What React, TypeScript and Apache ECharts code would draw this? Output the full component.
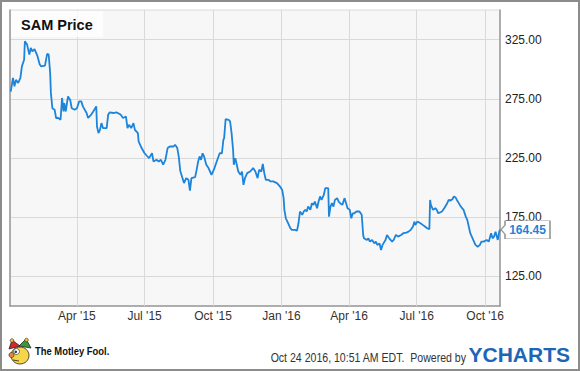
import React, { useEffect, useRef } from 'react';
import * as echarts from 'echarts';

const dates2015 = [
  '2015-01-02','2015-01-05','2015-01-07','2015-01-09','2015-01-12','2015-01-15','2015-01-17','2015-01-20','2015-01-21','2015-01-24','2015-01-27','2015-01-29','2015-01-31',
  '2015-02-03','2015-02-07','2015-02-10','2015-02-12','2015-02-17','2015-02-20','2015-02-22','2015-02-24','2015-02-25','2015-02-27',
  '2015-03-02','2015-03-04','2015-03-07','2015-03-10','2015-03-12','2015-03-14','2015-03-15','2015-03-17','2015-03-20','2015-03-23','2015-03-25','2015-03-29',
  '2015-04-01','2015-04-04','2015-04-07','2015-04-09','2015-04-14','2015-04-16','2015-04-20','2015-04-23','2015-04-27','2015-04-28','2015-04-30',
  '2015-05-02','2015-05-04','2015-05-06','2015-05-11','2015-05-13','2015-05-15','2015-05-20','2015-05-24','2015-05-28','2015-05-30',
  '2015-06-02','2015-06-06','2015-06-08','2015-06-10','2015-06-13','2015-06-16','2015-06-18','2015-06-22','2015-06-23','2015-06-27',
  '2015-07-01','2015-07-04','2015-07-07','2015-07-11','2015-07-13','2015-07-17','2015-07-20','2015-07-23','2015-07-26','2015-07-29',
  '2015-08-01','2015-08-04','2015-08-09','2015-08-11','2015-08-14','2015-08-16','2015-08-18','2015-08-20','2015-08-23','2015-08-26','2015-08-29','2015-08-31',
  '2015-09-02','2015-09-07','2015-09-09','2015-09-11','2015-09-13','2015-09-15','2015-09-17','2015-09-19','2015-09-22','2015-09-25','2015-09-29',
  '2015-10-03','2015-10-06','2015-10-10','2015-10-13','2015-10-15','2015-10-16','2015-10-18','2015-10-22','2015-10-24','2015-10-26','2015-10-28','2015-10-29','2015-10-31',
  '2015-11-02','2015-11-04','2015-11-07','2015-11-09','2015-11-11','2015-11-13','2015-11-16','2015-11-20','2015-11-24','2015-11-27','2015-11-30',
  '2015-12-02','2015-12-05','2015-12-07','2015-12-09','2015-12-11','2015-12-15','2015-12-17','2015-12-21','2015-12-26','2015-12-30',
];
const prices2015 = [
  281, 292.6, 285.5, 291, 288.4, 292.6, 302.4, 308, 323.6, 320.8, 312.3, 318, 315,
  317, 311, 304, 302.4, 303, 313, 312.3, 297, 280, 267,
  265.8, 258.8, 258.8, 257.3, 275.7, 264.3, 271.4, 264.3, 277, 274, 267, 265.8,
  267, 272.8, 272.8, 268.6, 263, 258.8, 261.5, 264.3, 268.6, 251.6, 246,
  248.8, 254.5, 250.3, 250.3, 261.5, 263.5, 263, 263.5, 262.4, 261.5,
  258.8, 260, 250.3, 253, 250.3, 254.5, 248.8, 246, 239, 233.4,
  229, 226.9, 224.9, 229, 222, 223.5, 222, 223.5, 219.3, 223.5,
  233.4, 234.7, 234.7, 236.2, 233.4, 226, 214, 210, 203.8, 208, 206.6, 197.5,
  208, 208.8, 215, 222, 226.3, 223.5, 229, 226.3, 219.3, 216.5, 210.8,
  216.5, 222, 229, 229, 240.4, 241.8, 257.9, 257.3, 255.9, 246, 232, 219.3, 224.9,
  219.3, 213.6, 210.8, 213.6, 202.3, 208, 212.2, 213.6, 216.5, 213.6, 208,
  215, 213.6, 220.1, 212.2, 206.6, 206.6, 205.2, 205.2, 203.8, 201,
];
const dates2016 = [
  '2016-01-02','2016-01-04','2016-01-05','2016-01-07','2016-01-10','2016-01-13','2016-01-15','2016-01-19','2016-01-22','2016-01-24','2016-01-26','2016-01-29','2016-01-31',
  '2016-02-02','2016-02-04','2016-02-06','2016-02-09','2016-02-11','2016-02-13','2016-02-15','2016-02-18','2016-02-20','2016-02-22','2016-02-24','2016-02-27','2016-02-29',
  '2016-03-04','2016-03-05','2016-03-07','2016-03-09','2016-03-11','2016-03-13','2016-03-16','2016-03-18','2016-03-20','2016-03-23','2016-03-26','2016-03-28','2016-03-30',
  '2016-04-02','2016-04-04','2016-04-06','2016-04-08','2016-04-11','2016-04-15','2016-04-18','2016-04-20','2016-04-21','2016-04-25','2016-04-27','2016-04-29',
  '2016-05-02','2016-05-05','2016-05-07','2016-05-09','2016-05-12','2016-05-14','2016-05-16','2016-05-20','2016-05-22','2016-05-25','2016-05-29','2016-05-31',
  '2016-06-03','2016-06-06','2016-06-10','2016-06-13','2016-06-17','2016-06-20','2016-06-23','2016-06-26','2016-06-28','2016-06-29',
  '2016-07-02','2016-07-06','2016-07-09','2016-07-12','2016-07-15','2016-07-18','2016-07-19','2016-07-20','2016-07-23','2016-07-26','2016-07-28','2016-07-30',
  '2016-08-04','2016-08-07','2016-08-11','2016-08-13','2016-08-15','2016-08-18','2016-08-20','2016-08-22','2016-08-24','2016-08-28','2016-08-31',
  '2016-09-02','2016-09-05','2016-09-07','2016-09-09','2016-09-11','2016-09-15','2016-09-18','2016-09-21','2016-09-24','2016-09-26','2016-09-29',
  '2016-10-03','2016-10-06','2016-10-09','2016-10-11','2016-10-13','2016-10-15','2016-10-18','2016-10-20','2016-10-21',
];
const prices2016 = [
  198.1, 191.1, 181.2, 174.1, 169.9, 165.7, 164.3, 164.3, 163.7, 169.9, 179.8, 177, 179.8,
  181.2, 179.8, 184, 181.2, 186.8, 185.4, 188.2, 182.6, 188.2, 192.5, 189.6, 193.9, 199.5,
  199.5, 175.5, 184, 186.8, 184, 189.6, 191.1, 188.2, 186.8, 185.4, 191.1, 186.8, 182.6,
  181.2, 174.1, 178.3, 178.3, 179.8, 179.8, 177, 160, 157.2, 155.8, 157.2, 154.4,
  155.8, 152.9, 154.4, 151.6, 152.9, 147.3, 151.6, 155.8, 160, 157.2, 154.4, 155.8,
  160, 158.6, 160, 161.5, 162, 162.8, 164.3, 167.1, 171.3, 168.5,
  171.3, 169.9, 168.5, 167.1, 165.7, 164.9, 189.6, 185.4, 181.2, 182.6, 181.2, 178.3,
  179.8, 182.6, 186.8, 189.6, 189, 190.2, 192.5, 191.9, 189.6, 185.4, 182.6,
  181.2, 175.5, 172.7, 167.1, 161.5, 155.8, 151.6, 150.1, 151.6, 154.4, 154.4,
  155.8, 154.4, 161.5, 157.2, 158.6, 162.8, 155.8, 162.8, 164.45,
];

const yTicks = [125, 175, 225, 275, 325];
const xTicks = ['2015-04-01', '2015-07-01', '2015-10-01', '2016-01-01', '2016-04-01', '2016-07-01', '2016-10-01'];
const xTickLabels = ["Apr '15", "Jul '15", "Oct '15", "Jan '16", "Apr '16", "Jul '16", "Oct '16"];
const titleText = 'SAM Price';
const footerStamp = 'Oct 24 2016, 10:51 AM EDT.  Powered by';

const FONT = '"Liberation Sans", Arial, Helvetica, sans-serif';
const LINE_BLUE = '#1c84da';

export default function App() {
  const ref = useRef<HTMLDivElement>(null);
  useEffect(() => {
    document.body.style.margin = '0';
    const chart = echarts.init(ref.current as HTMLDivElement, undefined, { renderer: 'svg' });
    const dates = [...dates2015, ...dates2016];
    const prices = [...prices2015, ...prices2016];
    const data = dates.map((d, i) => [d, prices[i]]);
    const lastIdx = dates.length - 1;

    chart.setOption({
      animation: false,
      backgroundColor: '#ffffff',
      textStyle: { fontFamily: FONT },
      grid: {
        left: 10, right: 80, top: 10, bottom: 65,
        show: true, backgroundColor: '#f7f7f7', borderColor: '#dadada', borderWidth: 1,
      },
      xAxis: {
        type: 'time',
        min: new Date(2015, 0, 1).getTime(),
        max: new Date(2016, 9, 21).getTime(),
        axisLine: { show: true, lineStyle: { color: '#999', width: 1.5 } },
        axisTick: { show: false },
        axisLabel: { show: false },
        splitLine: { show: false },
      },
      yAxis: [
        {
          type: 'value', position: 'right', min: 100, max: 350, interval: 25,
          axisLine: { show: true, lineStyle: { color: '#999', width: 1.5 } },
          axisTick: { show: false },
          axisLabel: {
            margin: 5, color: '#222', fontSize: 12, fontFamily: FONT,
            formatter: (v: number) => (yTicks.includes(v) ? v.toFixed(2) : ''),
          },
          splitLine: { show: true, lineStyle: { color: ['rgba(0,0,0,0)', '#d9d9d9'], width: 1 } },
        },
        {
          type: 'value', position: 'left', min: 100, max: 350,
          axisLine: { show: true, lineStyle: { color: '#999', width: 1.5 } },
          axisTick: { show: false }, axisLabel: { show: false }, splitLine: { show: false },
        },
      ],
      series: [
        {
          type: 'line', data: [], z: 1, silent: true,
          markLine: {
            z: 1, silent: true, symbol: ['none', 'none'], animation: false,
            lineStyle: { color: '#d9d9d9', width: 1, type: 'solid' },
            label: { show: true, position: 'start', distance: 4, color: '#333', fontSize: 12, fontFamily: FONT },
            emphasis: { disabled: true },
            data: xTicks.map((d, i) => ({ xAxis: d, label: { formatter: xTickLabels[i] } })),
          },
        },
        {
          type: 'line', data, z: 3, showSymbol: false, symbol: 'none', silent: true,
          lineStyle: { color: LINE_BLUE, width: 1.8 },
          markPoint: {
            silent: true, animation: false,
            symbol: 'path://M0,9 L4,4.5 L4,0 L49,0 L49,18 L4,18 L4,13.5 Z',
            symbolSize: [49, 18], symbolOffset: [25.5, 0],
            itemStyle: { color: '#ffffff', borderColor: '#999', borderWidth: 1 },
            label: {
              show: true, position: 'inside', offset: [2, 0.5], color: LINE_BLUE,
              fontWeight: 'bold', fontSize: 12, fontFamily: FONT,
              formatter: (p: any) => Number(p.value).toFixed(2),
            },
            data: [{ coord: [dates[lastIdx], prices[lastIdx]], value: prices[lastIdx] }],
          },
        },
      ],
      graphic: [
        { type: 'rect', shape: { x: 11, y: 11, width: 92, height: 26 }, style: { fill: 'rgba(255,255,255,0.75)' }, z: 10 },
        { type: 'text', x: 21, y: 24.5, z: 11, style: { text: titleText, fill: '#111', fontSize: 14.5, fontWeight: 'bold', fontFamily: FONT, align: 'left', verticalAlign: 'middle' } },
        // Motley Fool logo (simplified jester)
        { type: 'polygon', z: 11, shape: { points: [[9, 349], [12, 340], [20, 346]] }, style: { fill: '#d9262c', stroke: '#222', lineWidth: 0.8 } },
        { type: 'polygon', z: 11, shape: { points: [[19, 346], [26, 339], [31, 348]] }, style: { fill: '#3a9a3a', stroke: '#222', lineWidth: 0.8 } },
        { type: 'circle', z: 12, shape: { cx: 12, cy: 340.5, r: 1.8 }, style: { fill: '#f4c430', stroke: '#222', lineWidth: 0.6 } },
        { type: 'circle', z: 12, shape: { cx: 26.5, cy: 340, r: 1.8 }, style: { fill: '#f4c430', stroke: '#222', lineWidth: 0.6 } },
        { type: 'ellipse', z: 11, shape: { cx: 20, cy: 355.5, rx: 9, ry: 8.5 }, style: { fill: '#f6d548', stroke: '#222', lineWidth: 0.8 } },
        { type: 'circle', z: 12, shape: { cx: 16.5, cy: 351.5, r: 3 }, style: { fill: '#ffffff', stroke: '#222', lineWidth: 0.6 } },
        { type: 'circle', z: 13, shape: { cx: 15.8, cy: 351.8, r: 1.3 }, style: { fill: '#1a3c8a' } },
        { type: 'circle', z: 12, shape: { cx: 11.5, cy: 355, r: 2.6 }, style: { fill: '#e8873a', stroke: '#222', lineWidth: 0.6 } },
        { type: 'line', z: 12, shape: { x1: 13, y1: 360, x2: 19, y2: 361 }, style: { stroke: '#222', lineWidth: 0.8 } },
        { type: 'text', x: 35, y: 351, z: 11, scaleX: 0.82, style: { text: 'The Motley Fool.', fill: '#111', fontSize: 11.5, fontWeight: 'bold', fontFamily: FONT, align: 'left', verticalAlign: 'middle' } },
        { type: 'text', x: 466, y: 358, z: 11, scaleX: 0.88, style: { text: footerStamp, fill: '#333', fontSize: 12, fontFamily: FONT, align: 'right', verticalAlign: 'middle' } },
        { type: 'text', x: 468.5, y: 354.5, z: 11, style: { text: 'YCHARTS', fill: '#1d66b6', fontSize: 21, fontWeight: 'bold', fontFamily: FONT, align: 'left', verticalAlign: 'middle' } },
        { type: 'rect', z: 20, shape: { x: 1, y: 1, width: 578, height: 369 }, style: { fill: 'none', stroke: '#8c8c8c', lineWidth: 2 } },
      ],
    });
    return () => chart.dispose();
  }, []);
  return <div ref={ref} style={{ width: 580, height: 371 }} />;
}
